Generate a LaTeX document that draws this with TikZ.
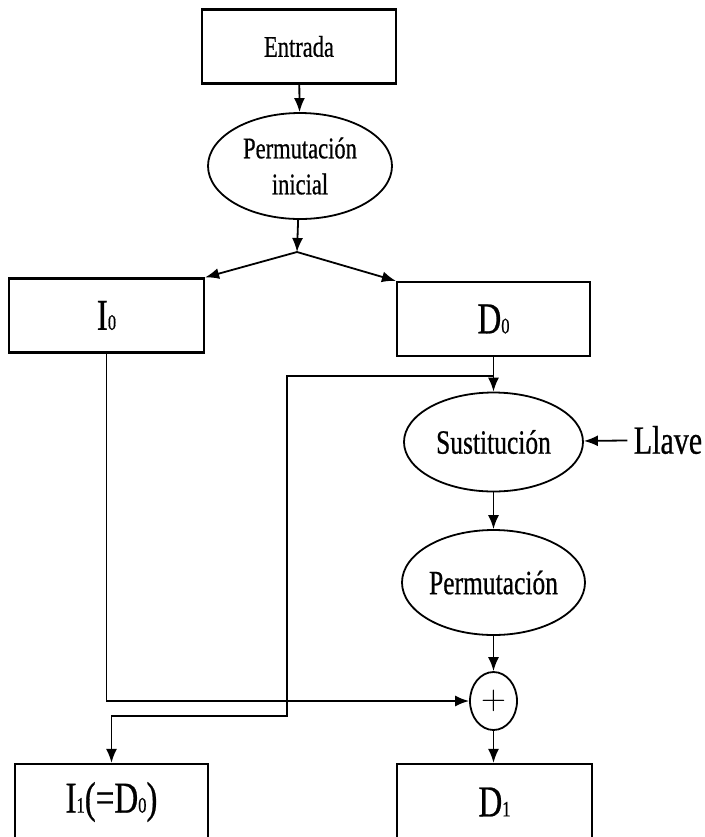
\documentclass[tikz,border=0pt]{standalone}
\usepackage{fontspec}
\setmainfont{Liberation Serif}[FakeStretch=0.75,FakeBold=0.6]
\usepackage{tikz}
\usetikzlibrary{arrows.meta}
\usetikzlibrary{shapes.geometric}
\newcommand{\idx}[1]{{\fontsize{11}{11}\selectfont #1}}

\begin{document}
\begin{tikzpicture}[>={Latex[length=7pt,width=5.5pt]},x=0.5pt,y=-0.5pt]
		\tikzstyle{blockbox}=[rectangle,draw,line width=1.1pt,minimum width=97pt,
			minimum height=37pt,inner sep=0pt,font=\fontsize{22}{22}\selectfont];
		\tikzstyle{process}=[ellipse,draw,line width=0.9pt,inner sep=0pt,align=center,
			font=\fontsize{17}{17}\selectfont];
		\tikzstyle{link}=[->,line width=0.9pt];
		\useasboundingbox (0,0) rectangle (705,837);

		\node[blockbox,font=\fontsize{15}{15}\selectfont](entrada) at (299,46.5){Entrada};
		\node[process,minimum width=92pt,minimum height=53pt,
			font=\fontsize{15}{18}\selectfont](perm0) at (300,166){Permutación\\inicial};
		\coordinate (split) at (297,252);

		\node[blockbox,minimum width=97.5pt](izq0) at (106.5,315.5){I\idx{0}};
		\node[blockbox,minimum width=96.5pt](der0) at (493.5,319){D\idx{0}};

		\node[process,minimum width=89.5pt,minimum height=49.5pt](sust) at (493.5,442){Sustitución};
		\node[font=\fontsize{20}{20}\selectfont,inner sep=3pt](llave) at (668,440){Llave};
		\node[process,minimum width=91.5pt,minimum height=52.5pt](perm) at (493.5,582.5){Permutación};
		\node[ellipse,draw,line width=0.9pt,minimum width=23.5pt,minimum height=29pt,
			inner sep=0pt](xor) at (493.5,701){\fontsize{16}{16}\selectfont$+$};

		\node[blockbox,minimum width=96.5pt,minimum height=38pt](izq1) at (111.5,802){I\idx{1}(=D\idx{0})};
		\node[blockbox,minimum width=97.5pt,minimum height=38pt](der1) at (494.5,802){D\idx{1}};

		\coordinate (fork) at (493.5,376);
		\coordinate (turn) at (287,716);

		\draw[link](entrada)--(perm0);
		\draw[link](perm0)--(split);
		\draw[link](split)--(izq0.north east);
		\draw[link](split)--(der0.north west);
		\draw[link](der0)--(sust);
		\draw[link](llave)--(sust);
		\draw[link](sust)--(perm);
		\draw[link](perm)--(xor);
		\draw[link](izq0.south)|-(xor.west);
		\draw[link](xor)--(xor|-der1.north);
		\draw[link](fork)--(fork-|turn)--(turn)-|(izq1.north);
	\end{tikzpicture}
\end{document}
